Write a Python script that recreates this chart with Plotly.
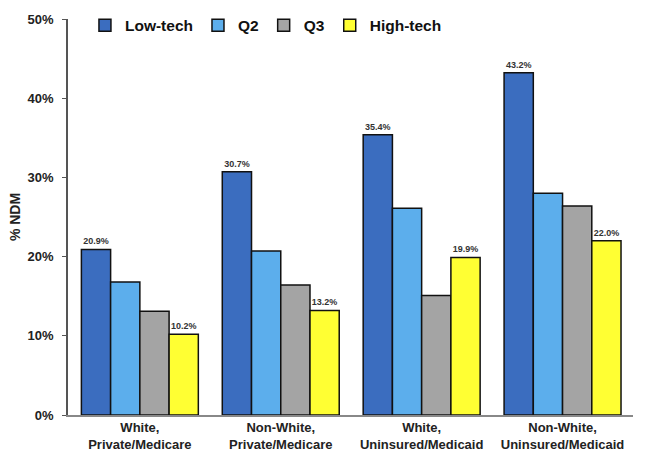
import plotly.graph_objects as go

categories = ["White,<br>Private/Medicare", "Non-White,<br>Private/Medicare",
              "White,<br>Uninsured/Medicaid", "Non-White,<br>Uninsured/Medicaid"]
series_names = ["Low-tech", "Q2", "Q3", "High-tech"]
low_tech = [20.9, 30.7, 35.4, 43.2]
q2 = [16.8, 20.7, 26.1, 28.0]
q3 = [13.1, 16.4, 15.1, 26.4]
high_tech = [10.2, 13.2, 19.9, 22.0]
y_ticks = [0, 10, 20, 30, 40, 50]
y_tick_labels = ["0%", "10%", "20%", "30%", "40%", "50%"]

colors = ["#3b6dbf", "#5caeec", "#a4a4a4", "#ffff33"]
values = [low_tech, q2, q3, high_tech]
show_labels = [True, False, False, True]

FONT = "Liberation Sans, Arial, sans-serif"
fig = go.Figure()
xs = list(range(len(categories)))
for name, vals, col, lab in zip(series_names, values, colors, show_labels):
    fig.add_trace(go.Bar(
        name=f"<b>{name}</b>", x=xs, y=vals,
        marker=dict(color=col, line=dict(color="#111111", width=1.5)),
        text=[f"<b>{v:.1f}%</b>" for v in vals] if lab else None,
        textposition="outside", cliponaxis=False,
        textfont=dict(size=9, color="#333333", family=FONT),
    ))

fig.update_layout(
    width=645, height=460,
    margin=dict(l=68, r=12, t=19, b=45, autoexpand=False),
    barmode="group", bargap=0.17, bargroupgap=0,
    plot_bgcolor="white", paper_bgcolor="white",
    font=dict(family=FONT, color="#222222"),
    legend=dict(orientation="h", x=0.03, y=0.983, xanchor="left", yanchor="middle",
                font=dict(size=15.5, family=FONT, color="#111111"),
                itemwidth=30, bgcolor="rgba(0,0,0,0)"),
    showlegend=True,
)

fig.update_xaxes(
    tickvals=xs, ticktext=[f"<b>{c}</b>" for c in categories],
    range=[-0.51, 3.5], showline=True, linecolor="#888888", linewidth=1.5,
    ticks="", tickfont=dict(size=13, family=FONT, color="#222222"), showgrid=False,
    automargin=False,
)
fig.update_yaxes(
    range=[0, 50], tickvals=y_ticks, ticktext=[f"<b>{t}</b>" for t in y_tick_labels],
    showline=True, linecolor="#555555", linewidth=1.5, ticks="outside", ticklen=4,
    tickcolor="#555555", tickfont=dict(size=13, family=FONT, color="#222222"),
    ticklabelstandoff=6,
    showgrid=False, zeroline=False, automargin=False,
    title=dict(text="<b>% NDM</b>", font=dict(size=14, family=FONT, color="#222222"), standoff=4),
)

fig.write_html("out.html", config={"displayModeBar": False},
               post_script="document.body.style.margin='0';")
